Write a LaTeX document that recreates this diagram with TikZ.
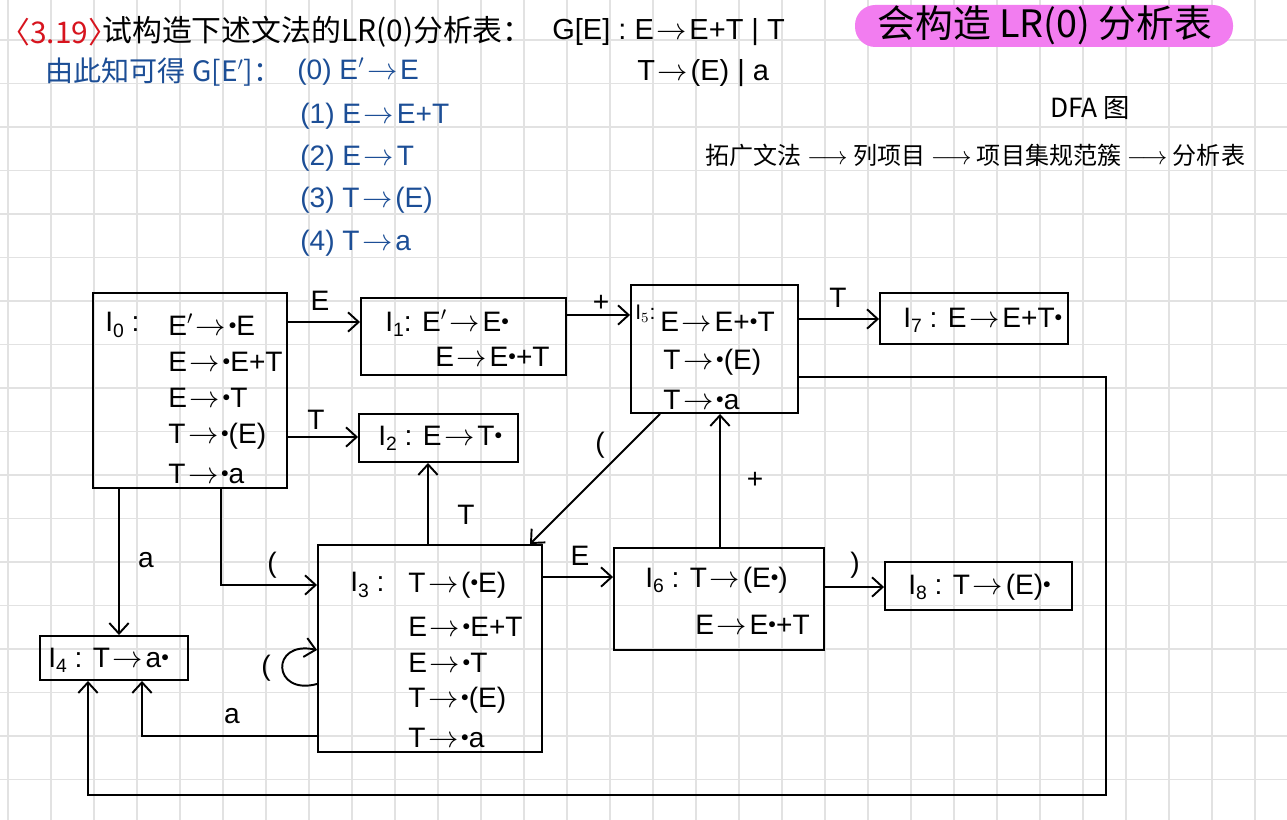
\documentclass[tikz,border=0pt]{standalone}
\usepackage{fontspec}
\setmainfont{Liberation Sans}
\newfontfamily\cjk{Noto Sans CJK SC}
\usetikzlibrary{arrows.meta,calc}
\newcommand\pxu{0.02cm}
\newcommand\tr{\kern1.5pt$\rightarrow$\kern1.5pt}
\newcommand\dt{\raisebox{0.4ex}{\scalebox{0.5}{$\bullet$}}}
\newcommand\ssub[1]{\raisebox{-0.35ex}{\fontsize{11}{12}\selectfont #1}}
\definecolor{gridc}{RGB}{226,226,226}
\definecolor{inkblue}{RGB}{28,78,150}
\definecolor{inkred}{RGB}{215,20,30}
\definecolor{hlpink}{RGB}{242,125,240}
\tikzset{
  box/.style 2 args={draw, line width=1.1pt, inner sep=0pt,
    minimum width=#1*\pxu, minimum height=#2*\pxu},
  arr/.style={line width=1.1pt, -{Straight Barb[length=6pt,width=11pt,line width=1.1pt]}},
  txt/.style={anchor=west, inner sep=0pt, font=\fontsize{16}{18}\selectfont},
  lab/.style={inner sep=0pt, font=\fontsize{16}{18}\selectfont},
  blu/.style={anchor=west, inner sep=0pt, text=inkblue, font=\fontsize{16}{18}\selectfont},
}
\begin{document}
\begin{tikzpicture}[x=0.02cm,y=-0.02cm]
\useasboundingbox (0,0) rectangle (1287,820);
\fill[white] (0,0) rectangle (1287,820);
% grid paper
\foreach \x in {8,51,...,1287} \draw[gridc, line width=0.6pt] (\x,0) -- (\x,820);
\foreach \y in {40,83.5,...,820} \draw[gridc, line width=0.6pt] (0,\y) -- (1287,\y);

% header
\node[anchor=west, inner sep=0pt, text=inkred, font=\cjk\fontsize{17}{19}\selectfont] (num) at (0,32) {〈3.19〉};
\node[anchor=west, inner sep=0pt, font=\cjk\fontsize{17}{19}\selectfont] (q) at (102,32) {试构造下述文法的LR(0)分析表：};
\node[txt, font=\fontsize{16.5}{19}\selectfont] (g1) at (552,32) {G[E] : E\tr E+T | T};
\node[txt, font=\fontsize{16.5}{19}\selectfont] (g2) at (637,73) {T\tr (E) | a};
\node[fill=hlpink, rounded corners=11.5pt, minimum width=378*\pxu, minimum height=42*\pxu, inner sep=0pt] (pill) at (1044,26) {};
\node[inner sep=0pt, font=\cjk\fontsize{21.5}{24}\selectfont] (title) at (1045,25) {会构造 LR(0) 分析表};

% augmented grammar
\node[blu, font=\cjk\fontsize{16}{18}\selectfont] (aug) at (45,72) {由此知可得 G[E$'$]：};
\node[blu] (p0) at (297,72) {(0) E$'$\tr E};
\node[blu] (p1) at (300,116) {(1) E\tr E+T};
\node[blu] (p2) at (300,158) {(2) E\tr T};
\node[blu] (p3) at (300,200) {(3) T\tr (E)};
\node[blu] (p4) at (300,243) {(4) T\tr a};

\node[anchor=west, inner sep=0pt, font=\cjk\fontsize{15}{17}\selectfont] (dfa) at (1050,108) {DFA 图};
\node[anchor=west, inner sep=0pt, font=\cjk\fontsize{13.7}{16}\selectfont] (steps) at (705,155)
  {拓广文法 $\longrightarrow$ 列项目 $\longrightarrow$ 项目集规范簇 $\longrightarrow$ 分析表};

% item-set boxes
\node[box={194}{195}] (I0) at (190,390.5) {};
\node[box={205}{77}]  (I1) at (463.5,336.5) {};
\node[box={159}{48}]  (I2) at (438.5,438) {};
\node[box={167}{128}] (I5) at (714.5,349) {};
\node[box={188}{51}]  (I7) at (974,318.5) {};
\node[box={224}{207}] (I3) at (430,648.5) {};
\node[box={148}{44}]  (I4) at (114,658) {};
\node[box={210}{102}] (I6) at (719,599) {};
\node[box={187}{48}]  (I8) at (978.5,586) {};

% texts of I0
\node[txt] (t0) at (105,325) {I\ssub{0} :};
\node[txt] (t0a) at (168,325) {E$'$\tr\dt E};
\node[txt] (t0b) at (168,362) {E\tr\dt E+T};
\node[txt] (t0c) at (168,398) {E\tr\dt T};
\node[txt] (t0d) at (168,436) {T\tr\dt (E)};
\node[txt] (t0e) at (168,474) {T\tr\dt a};
% I1
\node[txt] (t1a) at (385,323) {I\ssub{1}: E$'$\tr E\dt};
\node[txt] (t1b) at (435,357) {E\tr E\dt +T};
% I2
\node[txt] (t2) at (378,438) {I\ssub{2} : E\tr T\dt};
% I5
\node[txt, font=\fontsize{12}{13}\selectfont] (t5) at (635,314) {I$_5$:};
\node[txt] (t5a) at (660,322) {E\tr E+\dt T};
\node[txt] (t5b) at (663,362) {T\tr\dt (E)};
\node[txt] (t5c) at (663,400) {T\tr\dt a};
% I7
\node[txt] (t7) at (903,320) {I\ssub{7} : E\tr E+T\dt};
% I3
\node[txt] (t3) at (350,585) {I\ssub{3} :};
\node[txt] (t3a) at (408,585) {T\tr (\dt E)};
\node[txt] (t3b) at (408,627) {E\tr\dt E+T};
\node[txt] (t3c) at (408,663) {E\tr\dt T};
\node[txt] (t3d) at (408,700) {T\tr\dt (E)};
\node[txt] (t3e) at (408,738) {T\tr\dt a};
% I4
\node[txt] (t4) at (48,660) {I\ssub{4} : T\tr a\dt};
% I6
\node[txt] (t6a) at (645,580) {I\ssub{6} : T\tr (E\dt )};
\node[txt] (t6b) at (695,625) {E\tr E\dt +T};
% I8
\node[txt] (t8) at (908,587) {I\ssub{8} : T\tr (E)\dt};

% transitions
\draw[arr] (I0.east |- 0,322) -- (I1.west |- 0,322);
\node[lab] (l01) at (320,301) {E};
\draw[arr] (I0.east |- 0,437) -- (I2.west |- 0,437);
\node[lab] (l02) at (316,420) {T};
\draw[arr] (I1.east |- 0,315) -- (I5.west |- 0,315);
\node[lab] (l15) at (601,303) {+};
\draw[arr] (I5.east |- 0,319) -- (I7.west |- 0,319);
\node[lab] (l57) at (838,298) {T};
\draw[arr] (I5.east |- 0,377) -| (1106,795) -| (I4.south -| 88,0);
\draw[arr] (I5.south -| 660,0) -- (I3.north -| 530,0);
\node[lab] (l53) at (600,445) {(};
\draw[arr] (I6.north -| 720,0) -- (I5.south -| 720,0);
\node[lab] (l65) at (755,480) {+};
\draw[arr] (I3.north -| 428,0) -- (I2.south -| 428,0);
\node[lab] (l32) at (466,515) {T};
\draw[arr] (I3.east |- 0,577) -- (I6.west |- 0,577);
\node[lab] (l36) at (580,556) {E};
\draw[arr] (I6.east |- 0,587) -- (I8.west |- 0,587);
\node[lab] (l68) at (855,565) {)};
\draw[arr] (I0.south -| 119,0) -- (I4.north -| 119,0);
\node[lab] (l04) at (146,560) {a};
\draw[arr] (I0.south -| 221,0) |- (I3.west |- 0,585);
\node[lab] (l03) at (272,565) {(};
\draw[arr] (I3.west |- 0,684) .. controls (272,696) and (270,640) .. (I3.west |- 0,650);
\node[lab] (l33) at (266,668) {(};
\draw[arr] (I3.west |- 0,736) -| (I4.south -| 142,0);
\node[lab] (l34) at (232,716) {a};
\end{tikzpicture}
\end{document}
